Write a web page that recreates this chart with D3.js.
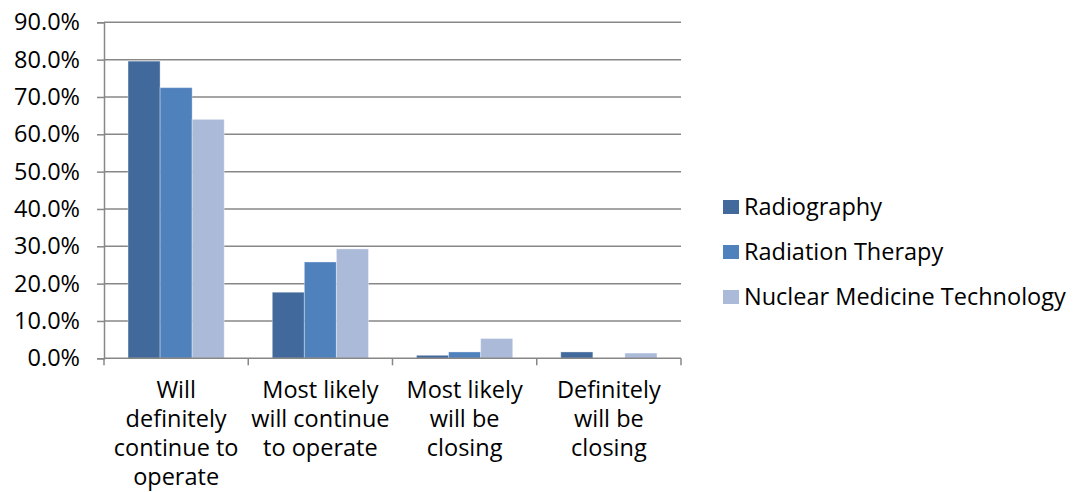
<!DOCTYPE html>
<html><head><meta charset="utf-8">
<script src="https://cdn.jsdelivr.net/npm/d3@7/dist/d3.min.js"></script>
<style>body{margin:0;background:#fff;} svg{display:block;} text{font-family:"Open Sans",sans-serif;fill:#000;}</style>
</head><body><svg id="c" width="1076" height="492"></svg>
<script>
const categories = [
  ["Will","definitely","continue to","operate"],
  ["Most likely","will continue","to operate"],
  ["Most likely","will be","closing"],
  ["Definitely","will be","closing"]
];
const seriesNames = ["Radiography","Radiation Therapy","Nuclear Medicine Technology"];
const radiography = [79.6, 17.7, 0.8, 1.7];
const radiationTherapy = [72.5, 25.8, 1.7, 0];
const nuclearMedicine = [64.0, 29.3, 5.3, 1.4];
const yTicks = [0,10,20,30,40,50,60,70,80,90];
const colors = ["#41699c","#4f81bd","#aabad8"];

const series = [radiography, radiationTherapy, nuclearMedicine];
const svg = d3.select("#c");
const mLeft = 104, mRight = 681, mTop = 22.3, mBottom = 358.3;
const fs = 23.5;

const x = d3.scaleBand().domain(d3.range(categories.length)).range([mLeft, mRight]).paddingInner(0).paddingOuter(0);
const x1 = d3.scaleBand().domain(d3.range(series.length)).range([0, x.bandwidth()]).paddingInner(0).paddingOuter(0.75);
const y = d3.scaleLinear().domain([0, 90]).range([mBottom, mTop]);

// gridlines
svg.append("g").selectAll("line").data(yTicks.filter(d=>d>0)).join("line")
  .attr("x1", mLeft).attr("x2", mRight).attr("y1", d=>y(d)).attr("y2", d=>y(d))
  .attr("stroke", "#878787").attr("stroke-width", 1.5);

// y axis
const yAxis = d3.axisLeft(y).tickValues(yTicks).tickSize(7).tickPadding(17).tickFormat(d=>d.toFixed(1)+"%");
const gy = svg.append("g").attr("transform", `translate(${mLeft},0)`).call(yAxis);
gy.select(".domain").attr("stroke","#878787").attr("stroke-width",1.5);
gy.selectAll(".tick line").attr("stroke","#878787").attr("stroke-width",1.5);
gy.selectAll(".tick text").style("font-size", fs+"px").style("font-family","\"Open Sans\",sans-serif").attr("fill","#000");

// bars
const groups = svg.append("g").selectAll("g").data(series).join("g").attr("fill", (d,i)=>colors[i]);
groups.each(function(vals, si){
  d3.select(this).selectAll("rect").data(vals).join("rect")
    .attr("x", (d,ci)=>x(ci)+x1(si))
    .attr("width", x1.bandwidth())
    .attr("y", d=>y(d))
    .attr("height", d=>mBottom - y(d))
    .attr("stroke", d=> d>0 ? "rgba(255,255,255,0.35)" : "none").attr("stroke-width",1);
});

// x axis
svg.append("line").attr("x1",mLeft).attr("x2",mRight).attr("y1",mBottom).attr("y2",mBottom)
  .attr("stroke","#878787").attr("stroke-width",1.5);
const boundaries = d3.range(categories.length+1).map(i => i<categories.length ? x(i) : mRight);
svg.append("g").selectAll("line").data(boundaries).join("line")
  .attr("x1",d=>d).attr("x2",d=>d).attr("y1",mBottom).attr("y2",mBottom+7)
  .attr("stroke","#878787").attr("stroke-width",1.5);

const xl = svg.append("g").selectAll("text").data(categories).join("text")
  .attr("text-anchor","middle").style("font-size", fs+"px")
  .attr("transform",(d,i)=>`translate(${x(i)+x.bandwidth()/2},0)`);
xl.selectAll("tspan").data(d=>d).join("tspan")
  .attr("x",0).attr("y",(d,i)=>398+i*29).text(d=>d);

// legend
const lg = svg.append("g").selectAll("g").data(seriesNames).join("g")
  .attr("transform",(d,i)=>`translate(723,${207+i*45})`);
lg.append("rect").attr("x",0).attr("y",-7).attr("width",16).attr("height",14).attr("fill",(d,i)=>colors[i]);
lg.append("text").attr("x",21).attr("y",8).style("font-size", fs+"px").text(d=>d);
</script></body></html>
